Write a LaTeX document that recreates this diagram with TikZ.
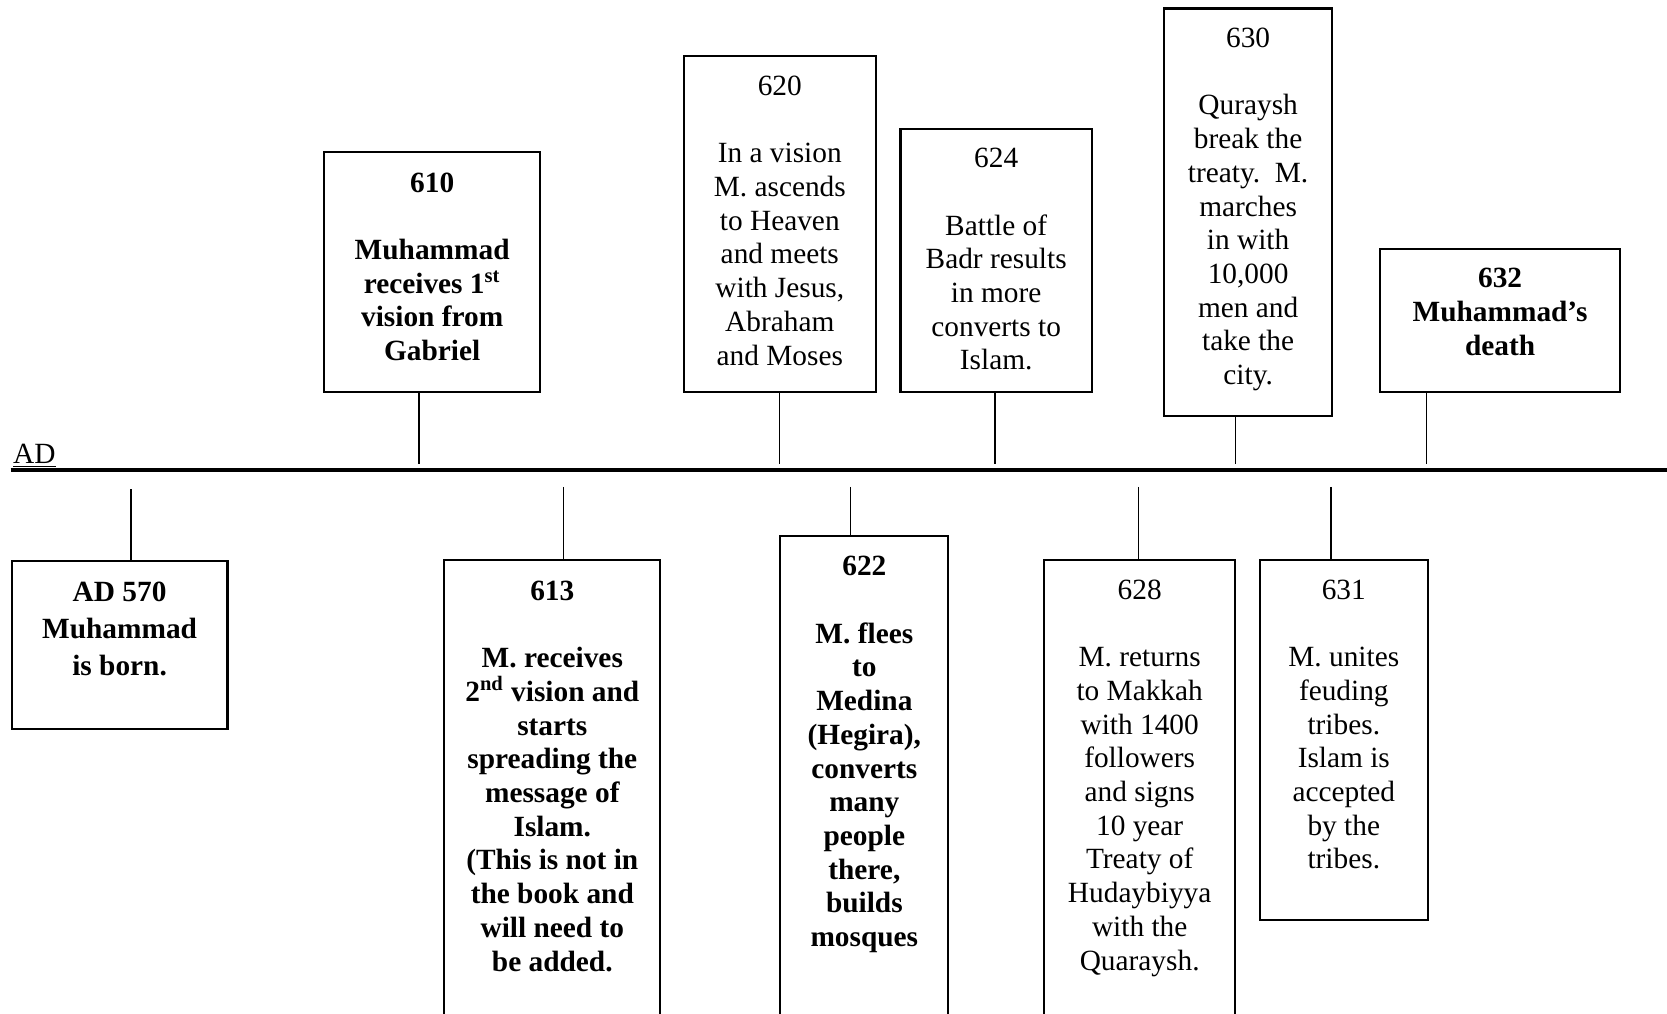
\documentclass[tikz,border=0pt]{standalone}
\usepackage{fontspec}
\setmainfont{Liberation Serif}
\usetikzlibrary{positioning}

\begin{document}
\begin{tikzpicture}[x=0.5pt, y=-0.5pt,
            box/.style = {draw, line width=1pt, anchor=north west, inner sep=0pt},
            txt/.style = {align=center, inner sep=0pt, font=\fontsize{13.8}{15.85}\selectfont},
            stem/.style = {line width=0.7pt}]
            \useasboundingbox (0,0) rectangle (1568,953);
            % time line
            \coordinate (tl) at (10,442);
            \coordinate (tr) at (1568,442);
            \draw[line width=1.6pt] (tl) -- (tr);
            \node (ad) [txt, above right=0.8pt and 1pt of tl] {\underline{AD}};
            % boxes above the line
            \node (b610) [box, minimum width=101.5pt, minimum height=113pt] at (304,142) {};
            \node (b620) [box, minimum width=90.5pt, minimum height=158pt] at (642,52) {};
            \node (b624) [box, minimum width=90pt, minimum height=124pt] at (846,120) {};
            \node (b630) [box, minimum width=79pt, minimum height=191.5pt] at (1094,7) {};
            \node (b632) [box, minimum width=113pt, minimum height=67.5pt] at (1297,233) {};
            % boxes below the line
            \node (b570) [box, minimum width=101.5pt, minimum height=79pt] at (10,527) {};
            \node (b613) [box, minimum width=101.5pt, minimum height=220pt] at (417,526) {};
            \node (b622) [box, minimum width=79pt, minimum height=230pt] at (733,503) {};
            \node (b628) [box, minimum width=90pt, minimum height=220pt] at (981,526) {};
            \node (b631) [box, minimum width=79pt, minimum height=169pt] at (1184,526) {};
            % texts
            \node (t610) [txt, below=10pt of b610.north] {\bfseries 610\\[\baselineskip]\bfseries Muhammad\\\bfseries receives 1\textsuperscript{st}\\\bfseries vision from\\\bfseries Gabriel};
            \node (t620) [txt, below=9.5pt of b620.north] {620\\[\baselineskip]In a vision\\M. ascends\\to Heaven\\and meets\\with Jesus,\\Abraham\\and Moses};
            \node (t624) [txt, below=9.5pt of b624.north] {624\\[\baselineskip]Battle of\\Badr results\\in more\\converts to\\Islam.};
            \node (t630) [txt, below=9.5pt of b630.north] {630\\[\baselineskip]Quraysh\\break the\\treaty.\ \ M.\\marches\\in with\\10,000\\men and\\take the\\city.};
            \node (t632) [txt, below=9.5pt of b632.north] {\bfseries 632\\\bfseries Muhammad's\\\bfseries death};
            \node (t570) [txt, below=10pt of b570.north, font=\fontsize{13.8}{17.5}\selectfont] {\bfseries AD 570\\\bfseries Muhammad\\\bfseries is born.};
            \node (t613) [txt, below=10pt of b613.north] {\bfseries 613\\[\baselineskip]\bfseries M. receives\\\bfseries 2\textsuperscript{nd} vision and\\\bfseries starts\\\bfseries spreading the\\\bfseries message of\\\bfseries Islam.\\\bfseries (This is not in\\\bfseries the book and\\\bfseries will need to\\\bfseries be added.};
            \node (t622) [txt, below=10pt of b622.north] {\bfseries 622\\[\baselineskip]\bfseries M. flees\\\bfseries to\\\bfseries Medina\\\bfseries (Hegira),\\\bfseries converts\\\bfseries many\\\bfseries people\\\bfseries there,\\\bfseries builds\\\bfseries mosques};
            \node (t628) [txt, below=9.5pt of b628.north] {628\\[\baselineskip]M. returns\\to Makkah\\with 1400\\followers\\and signs\\10 year\\Treaty of\\Hudaybiyya\\with the\\Quaraysh.};
            \node (t631) [txt, below=9.5pt of b631.north] {631\\[\baselineskip]M. unites\\feuding\\tribes.\\Islam is\\accepted\\by the\\tribes.};
            % stems
            \coordinate (s610) at (394,436);
            \coordinate (s620) at (733,436);
            \coordinate (s624) at (936,436);
            \coordinate (s630) at (1162,436);
            \coordinate (s632) at (1342,436);
            \coordinate (s570) at (123,460);
            \coordinate (s613) at (530,458);
            \coordinate (s622) at (800,458);
            \coordinate (s628) at (1071,458);
            \coordinate (s631) at (1252,458);
            \draw[stem] (s610 |- b610.south) -- (s610);
            \draw[stem] (s620 |- b620.south) -- (s620);
            \draw[stem] (s624 |- b624.south) -- (s624);
            \draw[stem] (s630 |- b630.south) -- (s630);
            \draw[stem] (s632 |- b632.south) -- (s632);
            \draw[stem] (s570) -- (s570 |- b570.north);
            \draw[stem] (s613) -- (s613 |- b613.north);
            \draw[stem] (s622) -- (s622 |- b622.north);
            \draw[stem] (s628) -- (s628 |- b628.north);
            \draw[stem] (s631) -- (s631 |- b631.north);
\end{tikzpicture}
\end{document}
